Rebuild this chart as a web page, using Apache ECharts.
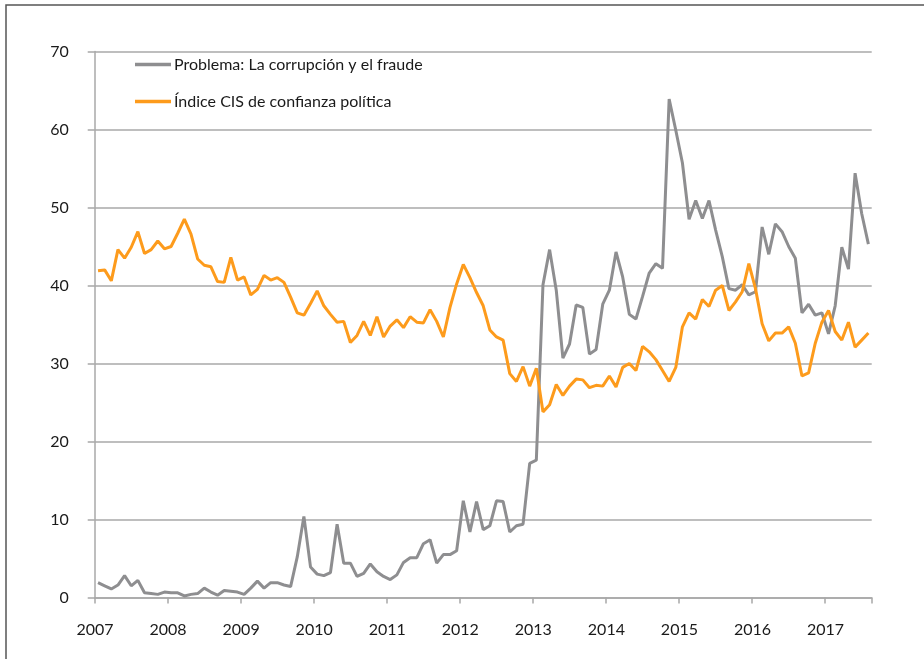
<!DOCTYPE html>
<html>
<head>
<meta charset="utf-8">
<script src="https://cdn.jsdelivr.net/npm/echarts@6/dist/echarts.min.js"></script>
<style>
  html, body { margin: 0; padding: 0; background: #fff; }
  #chart { width: 924px; height: 659px; }
</style>
</head>
<body>
<div id="chart"></div>
<script>
// barómetros CIS: un dato por mes, sin agosto (11 por año)
const years = [2007, 2008, 2009, 2010, 2011, 2012, 2013, 2014, 2015, 2016, 2017]
const months = ['01', '02', '03', '04', '05', '06', '07', '09', '10', '11', '12']
const lastMonth2017 = '07'

const corrupcion = [
  1.9, 1.5, 1.1, 1.6, 2.8, 1.5, 2.2, 0.6, 0.5, 0.4, 0.7,
  0.6, 0.6, 0.2, 0.4, 0.5, 1.2, 0.7, 0.3, 0.9, 0.8, 0.7,
  0.4, 1.2, 2.1, 1.2, 1.9, 1.9, 1.6, 1.4, 5.2, 10.4, 3.9,
  3.0, 2.8, 3.2, 9.4, 4.4, 4.4, 2.7, 3.1, 4.3, 3.3, 2.7,
  2.3, 2.9, 4.5, 5.1, 5.1, 6.9, 7.4, 4.4, 5.5, 5.5, 6.0,
  12.4, 8.4, 12.3, 8.7, 9.2, 12.4, 12.3, 8.4, 9.2, 9.4, 17.2,
  17.6, 40.1, 44.6, 39.4, 30.7, 32.5, 37.5, 37.2, 31.2, 31.8, 37.6,
  39.4, 44.3, 41.1, 36.3, 35.7, 38.6, 41.6, 42.8, 42.2, 63.9, 59.9,
  55.7, 48.5, 50.9, 48.6, 50.9, 47.1, 43.7, 39.6, 39.4, 40.1, 38.8,
  39.2, 47.5, 44.0, 47.9, 46.9, 45.0, 43.5, 36.5, 37.6, 36.2, 36.5,
  33.8, 37.4, 44.9, 42.1, 54.4, 49.2, 45.3
]

const confianza = [
  41.9, 42.0, 40.6, 44.6, 43.5, 44.9, 46.9, 44.1, 44.6, 45.7, 44.7,
  45.0, 46.7, 48.5, 46.6, 43.4, 42.6, 42.4, 40.5, 40.4, 43.6, 40.7,
  41.1, 38.8, 39.5, 41.3, 40.7, 41.0, 40.4, 38.5, 36.5, 36.2, 37.7,
  39.3, 37.4, 36.3, 35.3, 35.4, 32.7, 33.6, 35.4, 33.6, 36.0, 33.4,
  34.8, 35.6, 34.6, 36.0, 35.3, 35.2, 36.9, 35.4, 33.4, 37.2, 40.2,
  42.7, 41.0, 39.1, 37.4, 34.3, 33.4, 33.0, 28.7, 27.7, 29.6, 27.1,
  29.4, 23.8, 24.7, 27.3, 25.9, 27.1, 28.0, 27.9, 26.9, 27.2, 27.1,
  28.4, 27.0, 29.5, 30.0, 29.1, 32.2, 31.5, 30.5, 29.1, 27.7, 29.5,
  34.7, 36.5, 35.7, 38.2, 37.3, 39.4, 40.0, 36.8, 37.9, 39.2, 42.8,
  39.6, 35.1, 32.9, 33.9, 33.9, 34.7, 32.6, 28.4, 28.8, 32.6, 35.3,
  36.8, 34.1, 33.0, 35.3, 32.1, 33.0, 33.9
]

const yTicks = { min: 0, max: 70, interval: 10 }

const fechas = []
years.forEach((y) => {
  months.forEach((m) => {
    if (y === 2017 && m > lastMonth2017) return
    fechas.push(y + '-' + m)
  })
})

const c = {
  gray: '#8e8e90',
  orange: '#fd9b1c',
  grid: '#a8a8a8',
  text: '#1a1a1a',
}
const font = 'Lato, "Open Sans", sans-serif'

const chart = echarts.init(document.getElementById('chart'), null, { renderer: 'canvas' })

chart.setOption({
  animation: false,
  backgroundColor: '#fff',
  textStyle: { fontFamily: font },
  grid: { left: 94.7, right: 52.3, top: 51.5, bottom: 61.5, containLabel: false },
  graphic: [
    {
      type: 'rect',
      shape: { x: 6, y: 5, width: 1200, height: 1000 },
      style: { fill: 'none', stroke: '#555', lineWidth: 1.5 },
      silent: true,
    },
  ],
  legend: {
    orient: 'vertical',
    left: 135,
    top: 55,
    padding: 0,
    icon: 'rect',
    itemWidth: 36,
    itemHeight: 3.5,
    itemGap: 18,
    textStyle: { fontFamily: font, fontSize: 16, color: c.text, lineHeight: 19, padding: [0, 0, 0, -2] },
    data: ['Problema: La corrupción y el fraude', 'Índice CIS de confianza política'],
  },
  xAxis: {
    type: 'category',
    data: fechas,
    boundaryGap: true,
    axisLine: { lineStyle: { color: c.grid, width: 1.5 } },
    axisTick: {
      show: true,
      length: 6,
      interval: (i) => i % 11 === 0,
      lineStyle: { color: c.grid, width: 1.5 },
    },
    axisLabel: {
      interval: (i) => i % 11 === 0,
      formatter: (v) => v.slice(0, 4),
      color: c.text,
      fontSize: 16,
      fontFamily: font,
      margin: 24,
      padding: [0, 6, 0, 0],
    },
    splitLine: { show: false },
  },
  yAxis: {
    type: 'value',
    min: yTicks.min,
    max: yTicks.max,
    interval: yTicks.interval,
    axisLine: { show: true, lineStyle: { color: c.grid, width: 1.5 } },
    axisTick: { show: true, length: 7, lineStyle: { color: c.grid, width: 1.5 } },
    axisLabel: { color: c.text, fontSize: 16, fontFamily: font, margin: 26 },
    splitLine: { lineStyle: { color: c.grid, width: 1.5 } },
  },
  series: [
    {
      name: 'Problema: La corrupción y el fraude',
      type: 'line',
      data: corrupcion,
      symbol: 'none',
      lineStyle: { color: c.gray, width: 3 },
      itemStyle: { color: c.gray },
    },
    {
      name: 'Índice CIS de confianza política',
      type: 'line',
      data: confianza,
      symbol: 'none',
      lineStyle: { color: c.orange, width: 3 },
      itemStyle: { color: c.orange },
    },
  ],
})
</script>
</body>
</html>
